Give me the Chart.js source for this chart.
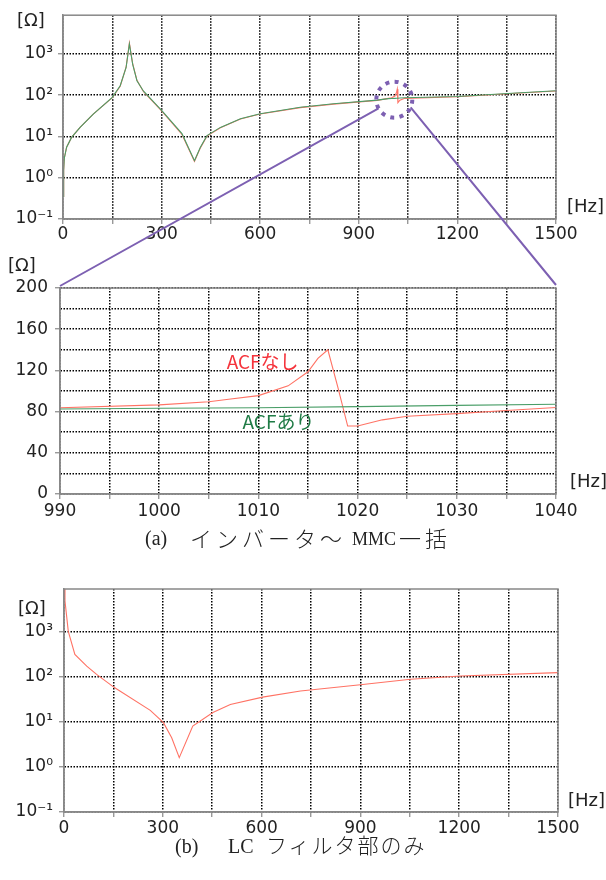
<!DOCTYPE html>
<html><head><meta charset="utf-8">
<script src="https://cdn.jsdelivr.net/npm/chart.js@4.4.1/dist/chart.umd.min.js"></script>
<style>
html,body{margin:0;padding:0;background:#fff;}
#page{position:relative;width:606px;height:880px;overflow:hidden;background:#fff;}
canvas{position:absolute;left:0;}
.lbl{position:absolute;font-family:"DejaVu Sans",sans-serif;font-size:18px;line-height:18px;color:#222;white-space:nowrap;}
.cap{position:absolute;font-family:"Liberation Serif","Noto Sans CJK JP",serif;font-size:20px;line-height:20px;color:#222;white-space:pre;}
.cj{font-family:"Noto Sans CJK JP",sans-serif;font-weight:300;}
</style></head>
<body><div id="page">
<canvas id="cA" width="606" height="250" style="top:0"></canvas>
<canvas id="cB" width="606" height="285" style="top:245px"></canvas>
<canvas id="cC" width="606" height="290" style="top:560px"></canvas>
<canvas id="ov" width="606" height="880" style="top:0;pointer-events:none"></canvas>
<div class="lbl" style="left:17px;top:11px">[Ω]</div>
<div class="lbl" style="left:567px;top:197px">[Hz]</div>
<div class="lbl" style="left:8px;top:256px">[Ω]</div>
<div class="lbl" style="left:570px;top:472px">[Hz]</div>
<div class="lbl" style="left:18px;top:599px">[Ω]</div>
<div class="lbl" style="left:568px;top:791px">[Hz]</div>
<div class="cap" style="left:145px;top:528px">(a)</div>
<div class="cap cj" style="left:190px;top:526px;font-size:22px;line-height:22px;letter-spacing:4px">インバータ～</div>
<div class="cap" style="left:352px;top:529px;font-size:18px">MMC</div>
<div class="cap cj" style="left:399px;top:526px;font-size:22px;line-height:22px;letter-spacing:4px">一括</div>
<div class="cap" style="left:175px;top:836px">(b)</div>
<div class="cap" style="left:228px;top:836px">LC</div>
<div class="cap cj" style="left:266px;top:834px;font-size:21px;line-height:21px;letter-spacing:2px">フィルタ部のみ</div>
</div>
<script>
// ---------- data ----------
const freqTop = [0, 2, 4, 11, 26, 52, 92, 150, 174, 192, 202, 212, 225, 245, 300, 362, 400, 418, 438, 479, 540, 600, 722, 823, 956, 990, 1000, 1010, 1015, 1017, 1019, 1025, 1040, 1200, 1353, 1500];
const zTopAri   = [0.35, 1.5, 3, 5.5, 9.5, 16.6, 35, 89, 170, 470, 1750, 560, 225, 125, 43, 11.7, 2.6, 5.5, 10.5, 16.6, 27, 35.5, 51, 62, 76, 82.5, 83.2, 83.8, 84.2, 84.4, 84.6, 85.5, 87.1, 93, 110, 128];
const zTopNashi = [0.35, 1.5, 3, 5.5, 9.5, 16.6, 35, 87, 165, 480, 1850, 580, 230, 122, 42, 11.2, 2.5, 5.3, 10.2, 16.2, 26.5, 35, 50, 61, 75, 83.8, 86.5, 95.5, 118.7, 140, 66, 75.5, 84, 92, 109, 127];

const freqZoomNashi = [990, 1000, 1005, 1007, 1010, 1013, 1015, 1016, 1017, 1018, 1019, 1020, 1022.5, 1025, 1030, 1035, 1040];
const zZoomNashi    = [83.8, 86.5, 89.6, 92, 95.5, 105, 118.7, 131.7, 140, 104, 66, 66, 72, 75.5, 78, 81, 84];
const freqZoomAri   = [990, 1000, 1010, 1020, 1030, 1040];
const zZoomAri      = [82.5, 83.2, 83.8, 84.8, 86, 87.1];

const freqLC = [0, 3, 13, 33, 69, 99, 153, 262, 302, 327, 350, 391, 452, 505, 603, 718, 900, 1052, 1204, 1500];
const zLC    = [9000, 4700, 1000, 309, 170, 112, 57, 17.8, 9.5, 4.4, 1.6, 8, 16, 24, 35, 48, 66, 87, 103, 122];

// ticks
const xGridWide   = [0, 150, 300, 450, 600, 750, 900, 1050, 1200, 1350, 1500];
const xLabelsWide = [0, 300, 600, 900, 1200, 1500];
const logTickValues = [0.1, 1, 10, 100, 1000];
const logTickLabels = ['10⁻¹', '10⁰', '10¹', '10²', '10³'];
const xGridZoom   = [990, 995, 1000, 1005, 1010, 1015, 1020, 1025, 1030, 1035, 1040];
const xLabelsZoom = [990, 1000, 1010, 1020, 1030, 1040];
const yGridZoom   = [0, 20, 40, 60, 80, 100, 120, 140, 160, 180, 200];
const yLabelsZoom = [0, 40, 80, 120, 160, 200];

// ---------- styling ----------
const RED = '#ff7264';
const GREEN = '#4a9e68';
const AXIS = '#888';
const GRID = '#000';
const GRIDW = 1.5;
const GRIDDASH = [1.5, 1.5];
const TICKFONT = {family: 'DejaVu Sans', size: 17};

const frame = {
  id: 'frame',
  afterDraw(c) {
    const {ctx, chartArea: a} = c;
    ctx.save();
    ctx.strokeStyle = AXIS; ctx.lineWidth = 1.5;
    ctx.strokeRect(a.left, a.top, a.right - a.left, a.bottom - a.top);
    ctx.restore();
  }
};

function pts(xs, ys) { return xs.map((x, i) => ({x, y: ys[i]})); }

function makeChart(id, o) {
  const canvas = document.getElementById(id);
  const labelSetX = new Set(o.xLabels.map(String));
  const yScale = o.log ? {
    type: 'logarithmic', min: 0.1, max: 8700,
    afterBuildTicks: s => { s.ticks = logTickValues.map(v => ({value: v})); },
    ticks: {font: TICKFONT, color: '#222', padding: o.yPad, autoSkip: false,
      callback: v => { const i = logTickValues.findIndex(t => Math.abs(t - v) < t * 1e-6); return i >= 0 ? logTickLabels[i] : ''; }},
    grid: {color: GRID, lineWidth: GRIDW, tickLength: 5, tickColor: AXIS, tickWidth: 1.2},
    border: {display: true, color: AXIS, width: 1.5, dash: GRIDDASH},
    afterFit: s => { s.width = o.L; }
  } : {
    type: 'linear', min: 0, max: 200,
    afterBuildTicks: s => { s.ticks = yGridZoom.map(v => ({value: v})); },
    ticks: {font: TICKFONT, color: '#222', padding: o.yPad, autoSkip: false,
      callback: v => yLabelsZoom.includes(v) ? String(v) : ''},
    grid: {color: GRID, lineWidth: GRIDW, tickLength: 5, tickWidth: 1.2,
      tickColor: c => (c.tick && yLabelsZoom.includes(c.tick.value)) ? AXIS : 'rgba(0,0,0,0)'},
    border: {display: true, color: AXIS, width: 1.5, dash: GRIDDASH},
    afterFit: s => { s.width = o.L; }
  };
  return new Chart(canvas, {
    type: 'line',
    data: {datasets: o.datasets},
    options: {
      responsive: false, animation: false, events: [],
      layout: {padding: {left: 0, top: o.T, right: o.R, bottom: 0}},
      plugins: {legend: {display: false}, tooltip: {enabled: false}},
      scales: {
        x: {
          type: 'linear', min: o.xMin, max: o.xMax,
          afterBuildTicks: s => { s.ticks = o.xGrid.map(v => ({value: v})); },
          ticks: {font: TICKFONT, color: '#222', padding: o.xPad, autoSkip: false, maxRotation: 0,
            callback: v => labelSetX.has(String(v)) ? String(v) : ''},
          grid: {color: GRID, lineWidth: GRIDW, tickLength: 5, tickColor: AXIS, tickWidth: 1.2},
          border: {display: true, color: AXIS, width: 1.5, dash: GRIDDASH},
          afterFit: s => { s.height = o.H; }
        },
        y: yScale
      }
    },
    plugins: [frame].concat(o.extra || [])
  });
}

const line = (data, color, order) => ({data, borderColor: color, borderWidth: 1.1, pointRadius: 0, tension: 0, fill: false, order});

const chartA = makeChart('cA', {
  L: 63, T: 14, R: 50, H: 31, xPad: 0, yPad: 5, log: true,
  xMin: 0, xMax: 1500, xGrid: xGridWide, xLabels: xLabelsWide,
  datasets: [line(pts(freqTop, zTopNashi), RED, 1), line(pts(freqTop, zTopAri), GREEN, 0)]
});

const acfLabels = {
  id: 'acfLabels',
  afterDatasetsDraw(c) {
    const {ctx} = c; const xs = c.scales.x, ys = c.scales.y;
    ctx.save();
    ctx.font = '19px "Noto Sans CJK JP"';
    ctx.textBaseline = 'middle'; ctx.textAlign = 'left';
    ctx.fillStyle = '#f5333b';
    ctx.fillText('ACFなし', xs.getPixelForValue(1006.8), ys.getPixelForValue(128.6));
    ctx.fillStyle = '#1f7b45';
    ctx.fillText('ACFあり', xs.getPixelForValue(1008.4), ys.getPixelForValue(69.9));
    ctx.restore();
  }
};

const chartB = makeChart('cB', {
  L: 60, T: 43, R: 50, H: 36, xPad: 2, yPad: 7, log: false,
  xMin: 990, xMax: 1040, xGrid: xGridZoom, xLabels: xLabelsZoom,
  datasets: [line(pts(freqZoomNashi, zZoomNashi), RED, 1), line(pts(freqZoomAri, zZoomAri), GREEN, 0)],
  extra: [acfLabels]
});

const chartC = makeChart('cC', {
  L: 64, T: 29, R: 48, H: 38, xPad: 1, yPad: 6, log: true,
  xMin: 0, xMax: 1500, xGrid: xGridWide, xLabels: xLabelsWide,
  datasets: [line(pts(freqLC, zLC), RED, 0)]
});

// ---------- zoom annotation (circle + connecting lines) ----------
const zoomCenterFreq = 1008, zoomCenterZ = 78;
(function drawOverlay() {
  const ov = document.getElementById('ov').getContext('2d');
  const xs = chartA.scales.x, ys = chartA.scales.y;
  const cx = xs.getPixelForValue(zoomCenterFreq), cy = ys.getPixelForValue(zoomCenterZ);
  const r = 18;
  const offB = 245;
  const b = chartB.chartArea;
  ov.strokeStyle = '#7d60b2';
  ov.lineCap = 'butt';
  ov.lineWidth = 4;
  ov.setLineDash([4, 5.4]);
  ov.beginPath(); ov.arc(cx, cy, r, 0, Math.PI * 2); ov.stroke();
  ov.setLineDash([]);
  ov.lineWidth = 2;
  const aL = 151 * Math.PI / 180, aR = 25 * Math.PI / 180;
  ov.beginPath();
  ov.moveTo(cx + r * Math.cos(aL), cy + r * Math.sin(aL));
  ov.lineTo(b.left, b.top + offB - 2);
  ov.moveTo(cx + r * Math.cos(aR), cy + r * Math.sin(aR));
  ov.lineTo(b.right, b.top + offB - 3);
  ov.stroke();
})();
</script>
</body></html>
